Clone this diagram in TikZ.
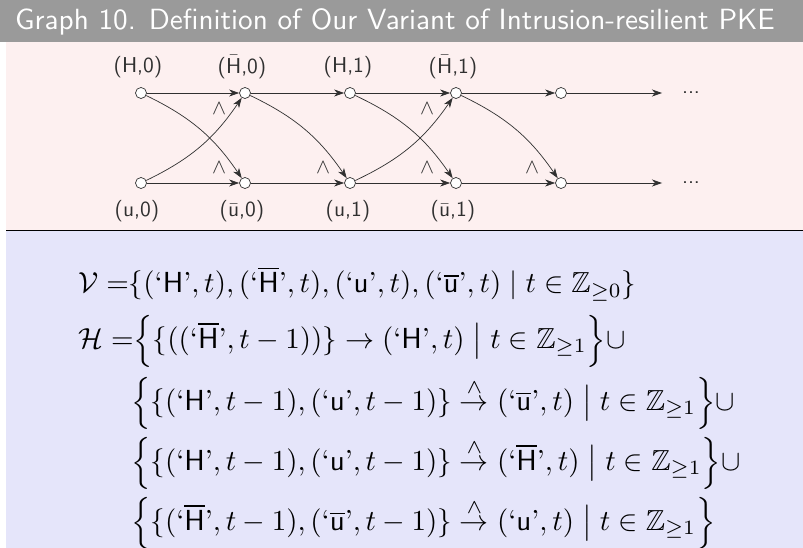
\documentclass[tikz,border=0pt]{standalone}
\usepackage{amsmath,amssymb}
\usetikzlibrary{arrows.meta,calc}
\definecolor{titlegray}{HTML}{9A9A9A}
\definecolor{pinkbg}{HTML}{FDF0F0}
\definecolor{bluebg}{HTML}{E5E5FA}
\definecolor{ink}{HTML}{303030}
\newcommand{\qs}[1]{\text{`\textsf{#1}'}}
\newcommand{\qb}[1]{\text{`}\overline{\textsf{#1}}\text{'}}
\newcommand{\sclbl}[1]{\scalebox{2.15}{\sffamily #1}}
\newcommand{\sceq}[1]{\scalebox{2.9}{$\displaystyle #1$}}
\begin{document}
\begin{tikzpicture}[x=1pt,y=-1pt,
  vtx/.style={circle, draw=ink, fill=white, line width=0.7pt, minimum size=11pt, inner sep=0pt},
  edg/.style={draw=ink, line width=0.7pt, -{Stealth[length=10pt,width=7pt,inset=3pt]}},
  lbl/.style={text=ink, inner sep=0pt},
  eqline/.style={anchor=west, inner sep=0pt}]
\useasboundingbox (0,0) rectangle (803,548);
\fill[white] (0,0) rectangle (803,548);
\fill[titlegray] (0,0) rectangle (803,42);
\fill[pinkbg] (6,42) rectangle (803,230);
\fill[bluebg] (6,230) rectangle (803,548);
\draw[black, line width=0.8pt] (6,230) -- (803,230);
\node[anchor=base west, text=white, inner sep=0pt] (title) at (15,30)
  {\scalebox{2.92}{\sffamily Graph 10. Definition of Our Variant of Intrusion-resilient PKE}};

% vertices
\foreach \i/\x in {0/141,1/245,2/350,3/456,4/561}{
  \node[vtx] (t\i) at (\x,93) {};
  \node[vtx] (b\i) at (\x,183) {};
}
\coordinate (te) at (662,93);
\coordinate (be) at (662,183);
\node[lbl] (dt) at (691,93) {\sclbl{...}};
\node[lbl] (db) at (691,183) {\sclbl{...}};

% labels
\node[lbl] (l0) at (138,67) {\sclbl{(H,0)}};
\node[lbl] (l1) at (242,67) {\sclbl{($\bar{\mathsf{H}}$,0)}};
\node[lbl] (l2) at (348,67) {\sclbl{(H,1)}};
\node[lbl] (l3) at (453,67) {\sclbl{($\bar{\mathsf{H}}$,1)}};
\node[lbl] (m0) at (137,211) {\sclbl{(u,0)}};
\node[lbl] (m1) at (242,211) {\sclbl{($\bar{\mathsf{u}}$,0)}};
\node[lbl] (m2) at (348,211) {\sclbl{(u,1)}};
\node[lbl] (m3) at (453,211) {\sclbl{($\bar{\mathsf{u}}$,1)}};

% horizontal edges
\draw[edg] (t0) -- (t1);
\draw[edg] (t1) -- (t2);
\draw[edg] (t2) -- (t3);
\draw[edg] (t3) -- (t4);
\draw[edg] (t4) -- (te);
\draw[edg] (b0) -- (b1);
\draw[edg] (b1) -- (b2);
\draw[edg] (b2) -- (b3);
\draw[edg] (b3) -- (b4);
\draw[edg] (b4) -- (be);

% curved edges
\draw[edg] (t0) to[bend left=15] (b1);
\draw[edg] (b0) to[bend right=15] (t1);
\draw[edg] (t1) to[bend left=15] (b2);
\draw[edg] (b2) to[bend right=15] (t3);
\draw[edg] (t2) to[bend left=15] (b3);
\draw[edg] (t3) to[bend left=15] (b4);

% wedge labels
\node[lbl] (w1) at ($(t1)+(-26,16)$) {\scalebox{2.1}{$\wedge$}};
\node[lbl] (w2) at ($(b1)+(-26,-15)$) {\scalebox{2.1}{$\wedge$}};
\node[lbl] (w3) at ($(b2)+(-27,-15)$) {\scalebox{2.1}{$\wedge$}};
\node[lbl] (w4) at ($(t3)+(-29,16)$) {\scalebox{2.1}{$\wedge$}};
\node[lbl] (w5) at ($(b3)+(-29,-15)$) {\scalebox{2.1}{$\wedge$}};
\node[lbl] (w6) at ($(b4)+(-29,-15)$) {\scalebox{2.1}{$\wedge$}};

% equations
\node[eqline] (e1) at (78,284) {\sceq{\mathcal{V}\;{=}\{(\qs{H},t),(\qb{H},t),(\qs{u},t),(\qb{u},t)\mid t\in\mathbb{Z}_{\geq 0}\}}};
\node[eqline] (e2) at (78,341) {\sceq{\mathcal{H}\;{=}\Big\{\{((\qb{H},t-1))\}\rightarrow(\qs{H},t)\;\big|\;t\in\mathbb{Z}_{\geq 1}\Big\}\cup}};
\node[eqline] (e3) at (131,403) {\sceq{\Big\{\{(\qs{H},t-1),(\qs{u},t-1)\}\stackrel{\wedge}{\rightarrow}(\qb{u},t)\;\big|\;t\in\mathbb{Z}_{\geq 1}\Big\}\cup}};
\node[eqline] (e4) at (131,463) {\sceq{\Big\{\{(\qs{H},t-1),(\qs{u},t-1)\}\stackrel{\wedge}{\rightarrow}(\qb{H},t)\;\big|\;t\in\mathbb{Z}_{\geq 1}\Big\}\cup}};
\node[eqline] (e5) at (131,523) {\sceq{\Big\{\{(\qb{H},t-1),(\qb{u},t-1)\}\stackrel{\wedge}{\rightarrow}(\qs{u},t)\;\big|\;t\in\mathbb{Z}_{\geq 1}\Big\}}};
\end{tikzpicture}
\end{document}
